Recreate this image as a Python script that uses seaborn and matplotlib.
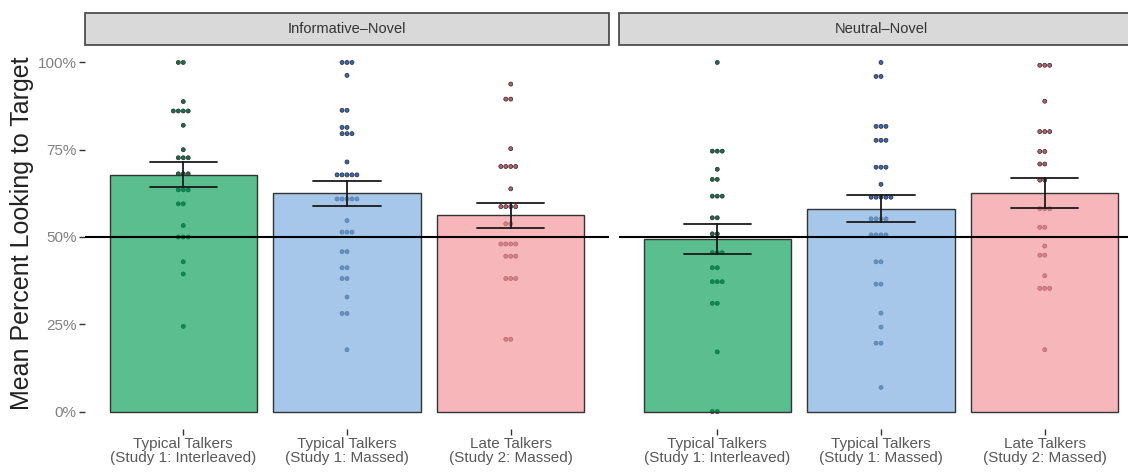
import numpy as np
import pandas as pd
import matplotlib
matplotlib.use("Agg")
import matplotlib.pyplot as plt
from matplotlib.patches import Rectangle
from matplotlib.ticker import PercentFormatter
import seaborn as sns

# ---------------- data (percent looking to target, per child) ----------------
groups = ["Typical Talkers\n(Study 1: Interleaved)",
          "Typical Talkers\n(Study 1: Massed)",
          "Late Talkers\n(Study 2: Massed)"]
conditions = ["Informative\u2013Novel", "Neutral\u2013Novel"]

info_interleaved = [100, 100, 88.8, 86.1, 86.1, 86.1, 86.1, 82.0, 75.0,
                    72.7, 72.7, 72.7, 68.1, 68.1, 68.1, 63.5, 63.5, 63.5,
                    59.5, 59.5, 53.3, 50.0, 50.0, 50.0, 42.9, 39.4, 24.4]
info_massed = [100, 100, 100, 96.3, 86.3, 86.3, 81.4, 81.4, 79.6, 79.6, 79.6,
               71.5, 67.8, 67.8, 67.8, 67.8, 67.8, 60.9, 60.9, 60.9, 60.9, 60.9,
               54.7, 51.4, 51.4, 51.4, 45.8, 45.8, 41.2, 41.2, 38.1, 38.1,
               32.8, 28.1, 28.1, 17.7]
info_late = [93.8, 89.5, 89.5, 75.3, 70.2, 70.2, 70.2, 70.2, 63.8,
             58.7, 58.7, 58.7, 58.7, 53.8, 53.8, 48.0, 48.0, 48.0, 48.0,
             44.5, 44.5, 44.5, 38.1, 38.1, 38.1, 20.7, 20.7]

neut_interleaved = [100, 74.6, 74.6, 74.6, 69.4, 66.5, 66.5, 61.7, 61.7, 61.7,
                    55.5, 55.5, 50.9, 50.9, 45.5, 45.5, 45.5, 41.2, 41.2,
                    37.2, 37.2, 37.2, 31.0, 31.0, 17.1, 0.0, 0.0]
neut_massed = [100, 96.0, 96.0, 81.7, 81.7, 81.7, 77.7, 77.7, 77.7,
               70.0, 70.0, 70.0, 65.1, 61.4, 61.4, 61.4, 61.4, 61.4,
               55.2, 55.2, 55.2, 55.2, 50.6, 50.6, 50.6, 50.6,
               42.9, 42.9, 36.5, 36.5, 28.2, 24.2, 19.6, 19.6, 6.9]
neut_late = [99.2, 99.2, 99.2, 88.9, 80.2, 80.2, 80.2, 74.5, 74.5,
             70.9, 70.9, 66.3, 66.3, 58.1, 58.1, 58.1, 52.8, 52.8,
             47.4, 44.8, 44.8, 38.9, 35.3, 35.3, 35.3, 17.7]

values = {
    conditions[0]: [info_interleaved, info_massed, info_late],
    conditions[1]: [neut_interleaved, neut_massed, neut_late],
}

y_ticks = [0, 0.25, 0.5, 0.75, 1.0]

# ---------------- style ----------------
bar_colors = ["#019B51", "#76AADF", "#F38F95"]
dot_colors = ["#18704a", "#3a68b0", "#b85e6a"]
bar_alpha = 0.65

rows = []
for cond in conditions:
    for g, vals in zip(groups, values[cond]):
        for v in vals:
            rows.append({"condition": cond, "group": g, "prop": v / 100.0})
df = pd.DataFrame(rows)

sns.set_style("white")
plt.rcParams["font.family"] = ["Liberation Sans", "DejaVu Sans"]

W, H = 1128, 472
fig = plt.figure(figsize=(W / 100, H / 100), dpi=100)

panel_top, panel_bot = 45, 429
panel_w = 524
lefts = [85, 619]
strip_h = 32

for i, cond in enumerate(conditions):
    ax = fig.add_axes([lefts[i] / W, (H - panel_bot) / H,
                       panel_w / W, (panel_bot - panel_top) / H])
    sub = df[df["condition"] == cond]

    sns.swarmplot(data=sub, x="group", y="prop", hue="group", order=groups,
                  hue_order=groups, palette=dot_colors, size=2.9,
                  edgecolor="#2a2a2a", linewidth=0.5, legend=False, ax=ax,
                  zorder=1)
    sns.barplot(data=sub, x="group", y="prop", hue="group", order=groups,
                hue_order=groups, palette=bar_colors, errorbar="se",
                capsize=0.41, width=0.9, legend=False, ax=ax,
                err_kws={"color": "#1a1a1a", "linewidth": 1.3})

    for p, c in zip(ax.patches, bar_colors):
        rgba = matplotlib.colors.to_rgba(c, bar_alpha)
        p.set_facecolor(rgba)
        p.set_edgecolor("#333333")
        p.set_linewidth(1.0)
        p.set_zorder(2)
    for ln in ax.lines:
        ln.set_zorder(4)

    ax.axhline(0.5, color="black", linewidth=1.5, zorder=5)

    ax.set_xlim(-0.6, 2.6)
    ax.set_ylim(-0.05, 1.05)
    ax.set_xlabel("")
    ax.set_ylabel("")
    for s in ax.spines.values():
        s.set_visible(False)

    ax.tick_params(axis="x", length=4, width=1.0, color="#333333",
                   labelsize=11, labelcolor="#595959", pad=2, bottom=True)
    for t in ax.get_xticklabels():
        t.set_linespacing(1.0)
    if i == 0:
        ax.set_yticks(y_ticks)
        ax.yaxis.set_major_formatter(PercentFormatter(1.0, decimals=0))
        ax.tick_params(axis="y", length=4, width=1.0, color="#333333",
                       labelsize=11, labelcolor="#808080", pad=2, left=True)
    else:
        ax.set_yticks([])

    # facet strip
    sh = strip_h / (panel_bot - panel_top)
    ax.add_patch(Rectangle((0, 1.0), 1, sh, transform=ax.transAxes,
                           facecolor="#d9d9d9", edgecolor="#4d4d4d",
                           linewidth=1.3, clip_on=False, zorder=6))
    ax.text(0.5, 1.0 + sh / 2, cond, transform=ax.transAxes, ha="center",
            va="center", fontsize=10.5, color="#333333", zorder=7)

fig.text(22 / W, 1 - 233 / H, "Mean Percent Looking to Target",
         rotation=90, ha="center", va="center", fontsize=18,
         color="#222222", family=["Liberation Sans", "DejaVu Sans"])

fig.savefig("out.png", dpi=100)
